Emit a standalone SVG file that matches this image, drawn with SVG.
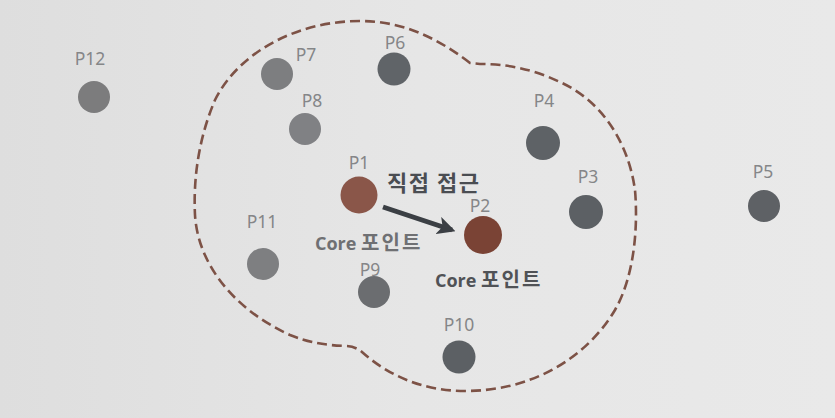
<svg xmlns="http://www.w3.org/2000/svg" width="835" height="418" viewBox="0 0 835 418">
<style>
.lbl{font-family:"Noto Sans","Open Sans","Noto Sans CJK KR",sans-serif;font-size:17.5px;fill:#858688;text-anchor:middle}
.core{font-family:"Open Sans","Noto Sans CJK KR",sans-serif;font-size:18px;font-weight:bold}
.ko{font-family:"Noto Sans CJK KR",sans-serif;font-size:20px;letter-spacing:2px}
.pt{stroke:none}
</style>
<defs>
<linearGradient id="bg" x1="0" y1="0" x2="1" y2="0">
<stop offset="0" stop-color="#dedede"/>
<stop offset="0.5" stop-color="#e6e6e6"/>
<stop offset="1" stop-color="#e9e9e9"/>
</linearGradient>
<marker id="ah" viewBox="0 0 10 10" refX="8" refY="5" markerWidth="3.6" markerHeight="3.6" orient="auto" markerUnits="strokeWidth">
<path d="M0,0 L10,5 L0,10 L2.5,5 Z" fill="#3b3f44"/>
</marker>
</defs>
<rect width="835" height="418" fill="url(#bg)"/>
<g id="boundary">
<path d="M470,63 C440,40 405,21 360,21 C300,21 240,50 215,100 C200,135 193,175 195,215 C198,265 235,310 290,335 C310,343 325,345 345,346 Q355,346 362,352 C390,377 425,391 465,391 C530,391 585,360 615,310 C635,275 638,225 635,190 C628,140 600,100 560,82 C530,68 505,64 480,64 Z" fill="none" stroke="#7d5246" stroke-width="2.6" stroke-dasharray="10 5"/>
</g>
<g id="connectors">
<line x1="383" y1="207" x2="452" y2="230" stroke="#3b3f44" stroke-width="5" marker-end="url(#ah)"/>
</g>
<g id="P12"><circle class="pt" cx="94" cy="97" r="16" fill="#7c7c7d"/><text class="lbl" x="90" y="65">P12</text></g>
<g id="P7"><circle class="pt" cx="277" cy="74" r="16" fill="#7d7e80"/><text class="lbl" x="306" y="61">P7</text></g>
<g id="P6"><circle class="pt" cx="394" cy="69" r="16.5" fill="#606468"/><text class="lbl" x="395" y="49">P6</text></g>
<g id="P8"><circle class="pt" cx="305" cy="129" r="16" fill="#808184"/><text class="lbl" x="312" y="107">P8</text></g>
<g id="P4"><circle class="pt" cx="543" cy="143" r="17" fill="#5e6266"/><text class="lbl" x="544" y="107">P4</text></g>
<g id="P1"><circle class="pt" cx="359" cy="195" r="18.5" fill="#8a5649"/><text class="lbl" x="359" y="169">P1</text></g>
<g id="P2"><circle class="pt" cx="483" cy="235" r="19" fill="#7a4335"/><text class="lbl" x="480" y="212">P2</text></g>
<g id="P3"><circle class="pt" cx="586" cy="212" r="17" fill="#5c6064"/><text class="lbl" x="588" y="183">P3</text></g>
<g id="P5"><circle class="pt" cx="764" cy="206" r="16" fill="#5e6165"/><text class="lbl" x="763" y="178">P5</text></g>
<g id="P11"><circle class="pt" cx="263" cy="264" r="16" fill="#7e7f81"/><text class="lbl" x="262" y="228">P11</text></g>
<g id="P9"><circle class="pt" cx="374" cy="292" r="16" fill="#6b6d70"/><text class="lbl" x="370" y="276">P9</text></g>
<g id="P10"><circle class="pt" cx="459" cy="357" r="16.5" fill="#5c6064"/><text class="lbl" x="459" y="331">P10</text></g>
<g id="labels">
<text x="387" y="191" font-family="'Noto Sans CJK KR',sans-serif" font-size="22" font-weight="bold" letter-spacing="1.5" fill="#4a4d52">직접 접근</text>
<text class="core" x="315" y="250" fill="#6f7073">Core <tspan class="ko">포인트</tspan></text>
<text class="core" x="435" y="287" fill="#505256">Core <tspan class="ko">포인트</tspan></text>
</g>
</svg>
